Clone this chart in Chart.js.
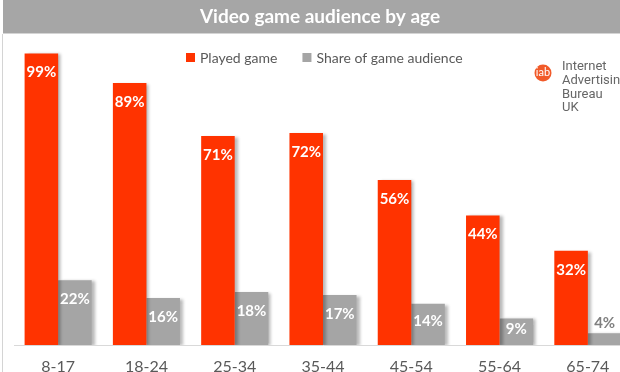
<!DOCTYPE html>
<html>
<head>
<meta charset="utf-8">
<script src="https://cdn.jsdelivr.net/npm/chart.js@4.4.0/dist/chart.umd.min.js"></script>
<style>
  html, body { margin: 0; padding: 0; background: #fff; overflow: hidden; }
  #wrap { position: relative; width: 640px; height: 380px; }
</style>
</head>
<body>
<div id="wrap"><canvas id="ageChart"></canvas></div>
<script>
// datos del gráfico
const ageGroups = ['8-17', '18-24', '25-34', '35-44', '45-54', '55-64', '65-74'];
const playedGame = [99, 89, 71, 72, 56, 44, 32];
const audienceShare = [22, 16, 18, 17, 14, 9, 4];
const seriesNames = ['Played game', 'Share of game audience'];
const chartTitle = 'Video game audience by age';
const logoLines = ['Internet', 'Advertising', 'Bureau', 'UK'];

const RED = '#ff3300';
const GREY = '#a5a5a5';
const FONT = 'Lato, "Open Sans", sans-serif';

// barra de título, marco, leyenda y logo
const framePlugin = {
    id: 'frame',
    beforeDraw(chart) {
        const ctx = chart.ctx;
        ctx.save();
        ctx.fillStyle = '#a6a6a6';
        ctx.fillRect(3, 0, chart.width, 33);
        ctx.fillStyle = '#d4d4d4';
        ctx.fillRect(3, 33, chart.width, 1);
        ctx.fillRect(2, 34, 1, chart.height);

        ctx.fillStyle = '#fff';
        ctx.font = 'bold 19px ' + FONT;
        ctx.textAlign = 'center';
        ctx.textBaseline = 'middle';
        ctx.fillText(chartTitle, 320, 17);

        // leyenda
        ctx.font = '14px ' + FONT;
        ctx.textAlign = 'left';
        let x = 186;
        [RED, GREY].forEach((c, i) => {
            ctx.fillStyle = c;
            ctx.fillRect(x, 53, 9, 9);
            ctx.fillStyle = '#595959';
            ctx.fillText(seriesNames[i], x + 14, 58);
            x += 14 + ctx.measureText(seriesNames[i]).width + 25;
        });

        // logo iab
        ctx.fillStyle = '#f15a29';
        ctx.beginPath();
        ctx.arc(543, 73, 8.5, 0, Math.PI * 2);
        ctx.fill();
        ctx.fillStyle = '#fff';
        ctx.textAlign = 'center';
        ctx.font = '11px ' + FONT;
        ctx.fillText('iab', 543, 72.5);
        ctx.fillStyle = '#666';
        ctx.textAlign = 'left';
        ctx.font = '13px Roboto, sans-serif';
        logoLines.forEach((t, i) => ctx.fillText(t, 562, 67 + i * 13.7));
        ctx.restore();
    }
};

// sombra suave de las barras
const shadowPlugin = {
    id: 'barShadow',
    beforeDatasetDraw(chart) {
        const ctx = chart.ctx;
        ctx.save();
        ctx.shadowColor = 'rgba(0,0,0,0.28)';
        ctx.shadowOffsetX = 3;
        ctx.shadowOffsetY = 1;
        ctx.shadowBlur = 3;
    },
    afterDatasetDraw(chart) {
        chart.ctx.restore();
    }
};

// etiquetas de valor
const labelPlugin = {
    id: 'valueLabels',
    afterDatasetsDraw(chart) {
        const ctx = chart.ctx;
        ctx.save();
        ctx.font = 'bold 15px ' + FONT;
        ctx.textAlign = 'center';
        ctx.textBaseline = 'middle';
        chart.data.datasets.forEach((ds, di) => {
            chart.getDatasetMeta(di).data.forEach((bar, i) => {
                const v = ds.data[i];
                const h = bar.base - bar.y;
                let y, color;
                if (h < 20) {
                    y = bar.y - 10;
                    color = '#7f7f7f';
                } else {
                    y = bar.y + Math.min(19, h / 2 - 3);
                    color = '#fff';
                }
                ctx.fillStyle = color;
                ctx.fillText(v + '%', bar.x, y);
            });
        });
        ctx.restore();
    }
};

const config = {
    type: 'bar',
    data: {
        labels: ageGroups,
        datasets: [
            { label: seriesNames[0], data: playedGame, backgroundColor: RED },
            { label: seriesNames[1], data: audienceShare, backgroundColor: GREY }
        ]
    },
    options: {
        responsive: true,
        maintainAspectRatio: false,
        animation: false,
        datasets: { bar: { barPercentage: 1, categoryPercentage: 0.76 } },
        layout: { padding: { left: 14, right: 8, top: 50.5, bottom: 4 } },
        plugins: {
            legend: { display: false },
            title: { display: false },
            tooltip: { enabled: false }
        },
        scales: {
            x: {
                grid: { display: false, drawTicks: false },
                border: { display: true, color: '#d9d9d9', width: 1 },
                ticks: { color: '#595959', font: { family: FONT, size: 16 }, padding: 12 },
                afterFit(scale) { scale.height = 31; }
            },
            y: { display: false, min: 0, max: 100 }
        }
    },
    plugins: [framePlugin, shadowPlugin, labelPlugin]
};

new Chart(document.getElementById('ageChart').getContext('2d'), config);
</script>
</body>
</html>
